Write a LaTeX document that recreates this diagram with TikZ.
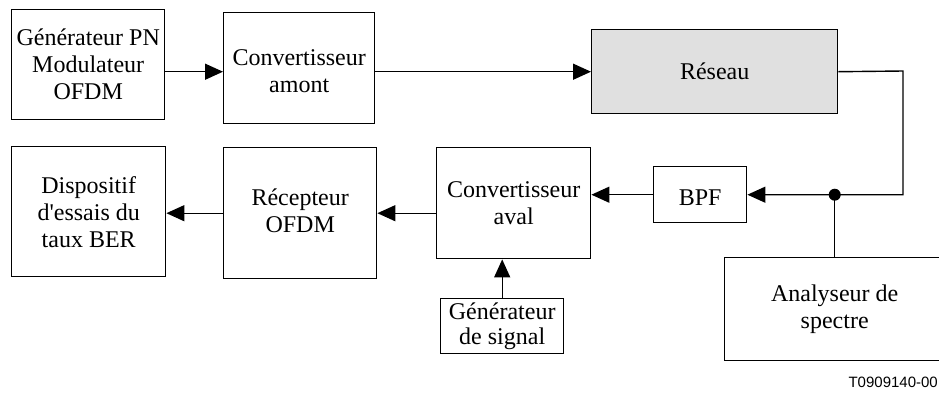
\documentclass[tikz,border=0pt]{standalone}
\usepackage{fontspec}
\setmainfont{Liberation Serif}[Ligatures=TeXOff]
\newfontfamily\footsans{Liberation Sans}
\usetikzlibrary{arrows.meta}
\begin{document}
\begin{tikzpicture}[x=1pt,y=-1pt,
  blk/.style={draw, line width=1.4pt, inner sep=0pt, align=center, anchor=north west,
    font=\fontsize{24}{27}\selectfont},
  txt/.style={align=center, inner sep=0pt, font=\fontsize{24}{27}\selectfont},
  conn/.style={line width=1.4pt},
  arr/.style={line width=1.4pt, -{Triangle[length=18pt,width=16pt]}}]
\useasboundingbox (0,0) rectangle (939,392);
% boxes
\node[blk, minimum width=153pt, minimum height=110pt] (gen) at (11,9) {Générateur PN\\Modulateur\\OFDM};
\node[blk, minimum width=151pt, minimum height=111pt,
  label={[txt, yshift=-3pt]center:Convertisseur\\amont}] (up) at (223,12) {};
\node[blk, fill={rgb,255:red,224;green,224;blue,224}, minimum width=246pt, minimum height=84pt] (net) at (591,29) {Réseau};
\node[blk, minimum width=154pt, minimum height=130pt] (ber) at (11,146) {Dispositif\\d'essais du\\taux BER};
\node[blk, minimum width=153pt, minimum height=131pt,
  label={[txt, yshift=2pt]center:Récepteur\\OFDM}] (rx) at (223,147) {};
\node[blk, minimum width=154pt, minimum height=111pt] (down) at (436,147) {Convertisseur\\aval};
\node[blk, minimum width=93pt, minimum height=56pt,
  label={[txt, yshift=-3pt]center:BPF}] (bpf) at (653,166) {};
\node[blk, minimum width=123pt, minimum height=55pt, font=\fontsize{24}{25}\selectfont] (sig) at (440,298) {Générateur\\de signal};
\node[blk, minimum width=220pt, minimum height=103pt] (spec) at (724,257) {Analyseur de\\spectre};
\node[font=\footsans\fontsize{15}{18}\selectfont, anchor=base east, inner sep=0pt] (ref) at (938,387) {T0909140-00};
% connectors
\draw[arr] (gen.east |- net.west) -- (up.west |- net.west);
\draw[arr] (up.east |- net.west) -- (net.west);
\coordinate (turn) at (903,71);
\draw[arr] (net.east) -- (turn) |- (bpf.east);
\coordinate (tap) at (spec.north |- bpf.east);
\draw[conn] (tap) -- (spec.north);
\fill (tap) circle (6pt);
\draw[arr] (bpf.west) -- (bpf.west -| down.east);
\draw[arr] (down.west |- rx.east) -- (rx.east);
\draw[arr] (rx.west) -- (rx.west -| ber.east);
\draw[arr] (sig.north) -- (sig.north |- down.south);
\end{tikzpicture}
\end{document}
